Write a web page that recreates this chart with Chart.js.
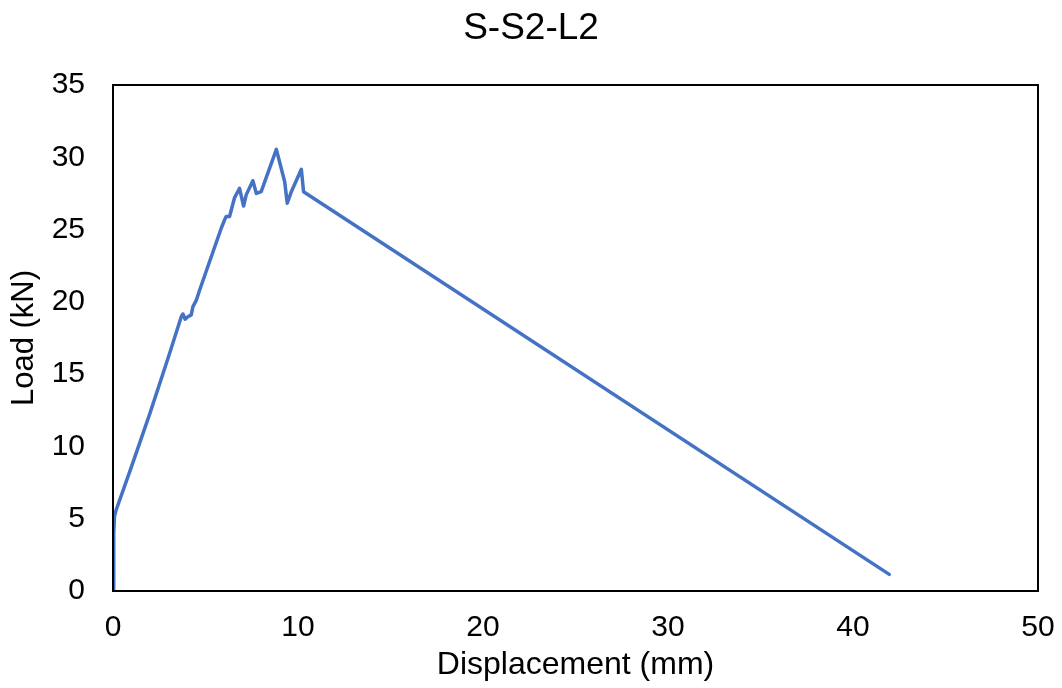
<!DOCTYPE html>
<html>
<head>
<meta charset="utf-8">
<script src="https://cdn.jsdelivr.net/npm/chart.js@4.4.1/dist/chart.umd.min.js"></script>
<style>
  html, body { margin: 0; padding: 0; background: #fff; }
  #wrap { width: 1062px; height: 688px; }
</style>
</head>
<body>
<div id="wrap"><canvas id="c" width="1062" height="688"></canvas></div>
<script>
// Load–displacement record for specimen S-S2-L2
const displacement = [0.03, 0.03, 0.05, 0.08, 0.17, 1.0, 2.0, 3.0, 3.69, 3.78, 3.9, 4.05, 4.23, 4.32, 4.5, 4.68,
  5.85, 6.03, 6.12, 6.3, 6.57, 6.84, 7.06, 7.2, 7.56, 7.75, 8.01, 8.83, 9.28, 9.42, 9.64, 10.18, 10.3, 41.96];
const load = [0, 2.0, 4.0, 5.14, 5.6, 8.6, 12.3, 16.2, 18.97, 19.16, 18.8, 18.97, 19.1, 19.67, 20.1, 20.8,
  25.09, 25.66, 25.9, 25.9, 27.2, 27.85, 26.63, 27.4, 28.38, 27.5, 27.62, 30.55, 28.31, 26.82, 27.62, 29.17, 27.62, 1.15];

const xTicks = [0, 10, 20, 30, 40, 50];
const yTicks = [0, 5, 10, 15, 20, 25, 30, 35];

const chartTitle = 'S-S2-L2';
const xTitle = 'Displacement (mm)';
const yTitle = 'Load (kN)';

const FONT = "'Liberation Sans', Arial, sans-serif";

// Frame around the plotting area
const frame = {
  id: 'frame',
  afterDatasetsDraw(chart) {
    const a = chart.chartArea, ctx = chart.ctx;
    ctx.save();
    ctx.strokeStyle = '#000';
    ctx.lineWidth = 2;
    ctx.strokeRect(a.left, a.top, a.right - a.left, a.bottom - a.top);
    ctx.restore();
  }
};

new Chart(document.getElementById('c'), {
  type: 'line',
  data: {
    datasets: [{
      data: displacement.map((x, i) => ({ x, y: load[i] })),
      borderColor: '#4472C4',
      borderWidth: 3.5,
      pointRadius: 0,
      tension: 0,
      fill: false,
      borderJoinStyle: 'round',
      borderCapStyle: 'round'
    }]
  },
  options: {
    responsive: false,
    animation: false,
    devicePixelRatio: 1,
    layout: { padding: 0 },
    plugins: {
      legend: { display: false },
      tooltip: { enabled: false },
      title: {
        display: true,
        text: chartTitle,
        color: '#000',
        font: { family: FONT, size: 37, weight: 'normal', lineHeight: 1.2 },
        padding: { top: 7, bottom: 33.6 }
      }
    },
    scales: {
      x: {
        type: 'linear',
        min: 0, max: 50,
        afterBuildTicks: s => { s.ticks = xTicks.map(v => ({ value: v })); },
        // keep a fixed margin to the right of the plot area
        afterFit: s => { s.height = 97; s.paddingLeft = 0; s.paddingRight = 24; },
        grid: { display: false, drawTicks: false },
        border: { display: false },
        ticks: { color: '#000', padding: 19, maxRotation: 0, font: { family: FONT, size: 30 } },
        title: {
          display: true, text: xTitle, color: '#000',
          font: { family: FONT, size: 32 }, padding: { top: 0, bottom: 4 }
        }
      },
      y: {
        type: 'linear',
        min: 0, max: 35,
        afterBuildTicks: s => { s.ticks = yTicks.map(v => ({ value: v })); },
        afterFit: s => { s.width = 113; },
        grid: { display: false, drawTicks: false },
        border: { display: false },
        ticks: { color: '#000', padding: 28, font: { family: FONT, size: 30 } },
        title: {
          display: true, text: yTitle, color: '#000',
          font: { family: FONT, size: 31 }, padding: { top: 6, bottom: 0 }
        }
      }
    }
  },
  plugins: [frame]
});
</script>
</body>
</html>
